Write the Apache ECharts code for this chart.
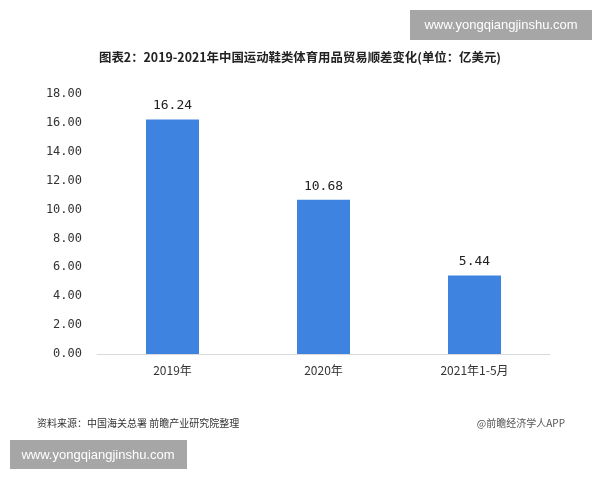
<!DOCTYPE html>
<html>
<head>
<meta charset="utf-8">
<script src="https://cdn.jsdelivr.net/npm/echarts@6/dist/echarts.min.js"></script>
<style>
  html, body { margin: 0; padding: 0; background: #fff; }
  #main { width: 600px; height: 480px; }
</style>
</head>
<body>
<div id="main"></div>
<script>
// 类别与数据
var categories = ['2019年', '2020年', '2021年1-5月'];
var surplus = [16.24, 10.68, 5.44];
var yTicks = [0, 2, 4, 6, 8, 10, 12, 14, 16, 18];

var cjk = '"Noto Sans CJK SC", "Noto Sans", sans-serif';
var myChart = echarts.init(document.getElementById('main'));

var option = {
    animation: false,
    backgroundColor: '#fff',
    textStyle: { fontFamily: cjk },
    title: {
        text: '图表2：2019-2021年中国运动鞋类体育用品贸易顺差变化(单位：亿美元)',
        left: 'center',
        top: 46,
        textStyle: { fontSize: 12.4, fontWeight: 'bold', color: '#222', fontFamily: cjk }
    },
    grid: { left: 97, right: 50, top: 94, bottom: 126 },
    xAxis: {
        type: 'category',
        data: categories,
        axisTick: { show: false },
        axisLine: { lineStyle: { color: '#d9d9d9' } },
        axisLabel: { color: '#333', fontSize: 12, margin: 10 }
    },
    yAxis: {
        type: 'value',
        min: yTicks[0],
        max: yTicks[yTicks.length - 1],
        interval: 2,
        splitLine: { show: false },
        axisLine: { show: false },
        axisTick: { show: false },
        axisLabel: {
            color: '#333',
            fontSize: 12,
            margin: 15,
            fontFamily: '"DejaVu Sans Mono", monospace',
            formatter: function (v) { return v.toFixed(2); }
        }
    },
    series: [{
        type: 'bar',
        data: surplus,
        barWidth: 53,
        itemStyle: { color: '#3f83e0' },
        label: {
            show: true,
            position: 'top',
            distance: 7,
            color: '#222',
            fontSize: 13,
            fontFamily: '"DejaVu Sans Mono", monospace',
            formatter: function (p) { return p.value.toFixed(2); }
        }
    }],
    graphic: [
        { type: 'rect', shape: { x: 410, y: 10, width: 182, height: 30 }, style: { fill: '#a6a6a6' } },
        { type: 'text', x: 501, y: 25, style: { text: 'www.yongqiangjinshu.com', fill: '#fff', font: '13px "Liberation Sans", Arial, sans-serif', textAlign: 'center', textVerticalAlign: 'middle' } },
        { type: 'rect', shape: { x: 10, y: 440, width: 177, height: 29 }, style: { fill: '#a6a6a6' } },
        { type: 'text', x: 98, y: 455, style: { text: 'www.yongqiangjinshu.com', fill: '#fff', font: '13px "Liberation Sans", Arial, sans-serif', textAlign: 'center', textVerticalAlign: 'middle' } },
        { type: 'text', x: 37, y: 423, style: { text: '资料来源：中国海关总署 前瞻产业研究院整理', fill: '#333', font: '10px "Noto Sans CJK SC", sans-serif', textVerticalAlign: 'middle' } },
        { type: 'text', x: 565, y: 423, style: { text: '@前瞻经济学人APP', fill: '#555', font: '10px "Noto Sans CJK SC", sans-serif', textAlign: 'right', textVerticalAlign: 'middle' } }
    ]
};
myChart.setOption(option);
</script>
</body>
</html>
